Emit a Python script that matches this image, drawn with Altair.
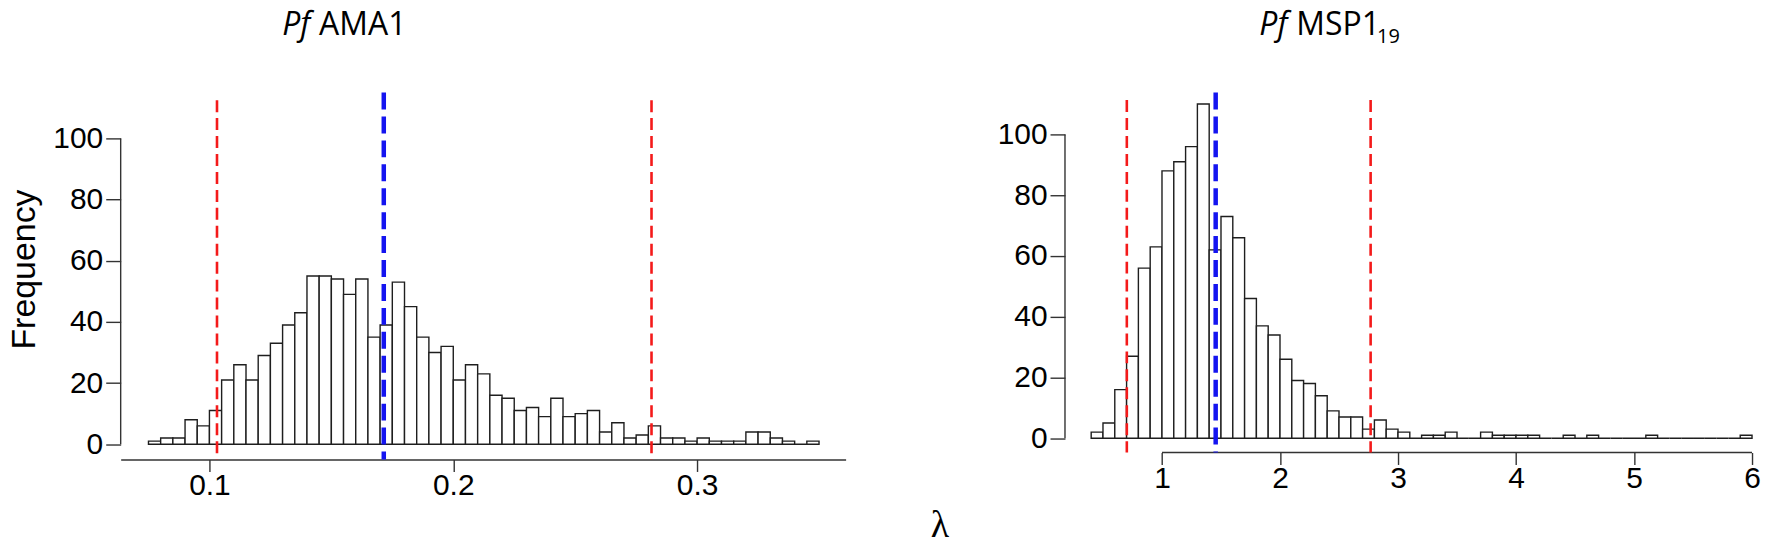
import altair as alt
import pandas as pd

# ---------------- data ----------------
ama_bin_start = [0.075, 0.080, 0.085, 0.090, 0.095, 0.100, 0.105, 0.110, 0.115, 0.120,
                 0.125, 0.130, 0.135, 0.140, 0.145, 0.150, 0.155, 0.160, 0.165, 0.170,
                 0.175, 0.180, 0.185, 0.190, 0.195, 0.200, 0.205, 0.210, 0.215, 0.220,
                 0.225, 0.230, 0.235, 0.240, 0.245, 0.250, 0.255, 0.260, 0.265, 0.270,
                 0.275, 0.280, 0.285, 0.290, 0.295, 0.300, 0.305, 0.310, 0.315, 0.320,
                 0.325, 0.330, 0.335, 0.340, 0.345]
ama_counts = [1, 2, 2, 8, 6, 11, 21, 26, 21, 29,
              33, 39, 43, 55, 55, 54, 49, 54, 35, 39,
              53, 45, 35, 30, 32, 21, 26, 23, 16, 15,
              11, 12, 9, 15, 9, 10, 11, 4, 7, 2,
              3, 6, 2, 2, 1, 2, 1, 1, 1, 4,
              4, 2, 1, 0, 1]
ama_bin_width = 0.005
ama_ci = [0.1031, 0.2813]
ama_mean = [0.1715]
ama_xticks = [0.1, 0.2, 0.3]

msp_bin_start = [0.4, 0.5, 0.6, 0.7, 0.8, 0.9, 1.0, 1.1, 1.2, 1.3,
                 1.4, 1.5, 1.6, 1.7, 1.8, 1.9, 2.0, 2.1, 2.2, 2.3,
                 2.4, 2.5, 2.6, 2.7, 2.8, 2.9, 3.0, 3.1, 3.2, 3.3,
                 3.4, 3.5, 3.6, 3.7, 3.8, 3.9, 4.0, 4.1, 4.2, 4.3,
                 4.4, 4.5, 4.6, 4.7, 4.8, 4.9, 5.0, 5.1, 5.2, 5.3,
                 5.4, 5.5, 5.6, 5.7, 5.8, 5.9]
msp_counts = [2, 5, 16, 27, 56, 63, 88, 91, 96, 110,
              62, 73, 66, 46, 37, 34, 26, 19, 18, 14,
              9, 7, 7, 3, 6, 3, 2, 0, 1, 1,
              2, 0, 0, 2, 1, 1, 1, 1, 0, 0,
              1, 0, 1, 0, 0, 0, 0, 1, 0, 0,
              0, 0, 0, 0, 0, 1]
msp_bin_width = 0.1
msp_ci = [0.702, 2.768]
msp_mean = [1.455]
msp_xticks = [1, 2, 3, 4, 5, 6]

y_ticks = [0, 20, 40, 60, 80, 100]

# ---------------- styling ----------------
FONT = "Liberation Sans"
TFONT = "Open Sans"
AX = "#333333"
BAR = "#1e1e1e"
RED = "#f41a1a"
BLUE = "#1414f0"

W1, H1 = 727, 368
W2, H2 = 689, 361
Y1_DOM = [-5, 115]
Y2_DOM = [-4.69, 113.8]
X1_DOM = [0.0636, 0.3609]
X2_DOM = [0.178, 6.0]


def hist_df(starts, counts, width):
    return pd.DataFrame({
        "start": starts,
        "end": [s + width for s in starts],
        "count": counts,
        "base": [0] * len(starts),
    })


def panel(starts, counts, width, ci, mean, xticks, xdom, ydom, w, h,
          xfmt, left_title, right_title, sub, title_pos, first):
    df = hist_df(starts, counts, width)
    xscale = alt.Scale(domain=xdom, nice=False, zero=False)
    yscale = alt.Scale(domain=ydom, nice=False, zero=False)

    if first:
        xaxis = alt.Axis(values=xticks, format=xfmt, grid=False, domain=True,
                         tickSize=12, labelPadding=-1, labelFontSize=30, labelFont=FONT,
                         labelFlush=False, labelColor="black",
                         title="λ", titleFont="Liberation Serif", titleFontSize=38,
                         titleFontWeight="normal", titleX=821, titleY=77,
                         titleAlign="center", titleBaseline="alphabetic", titleAngle=0,
                         titleColor="black")
        yaxis = alt.Axis(values=y_ticks, grid=False, domain=False, tickSize=15,
                         labelPadding=3, labelFontSize=30, labelFont=FONT,
                         labelColor="black",
                         title="Frequency", titleFont=FONT, titleFontSize=34,
                         titleFontWeight="normal", titleX=-96, titleY=177,
                         titleAlign="center", titleBaseline="middle", titleAngle=270,
                         titleColor="black")
    else:
        xaxis = alt.Axis(values=xticks, format=xfmt, grid=False, domain=False,
                         tickSize=12, labelPadding=-1, labelFontSize=30, labelFont=FONT,
                         labelFlush=False, labelColor="black", title=None)
        yaxis = alt.Axis(values=y_ticks, grid=False, domain=False, tickSize=15,
                         labelPadding=3, labelFontSize=30, labelFont=FONT,
                         labelColor="black", title=None)

    bars = alt.Chart(df).mark_rect(fill="white", stroke=BAR, strokeWidth=1.4).encode(
        x=alt.X("start:Q", scale=xscale, axis=xaxis),
        x2="end:Q",
        y=alt.Y("count:Q", scale=yscale, axis=yaxis),
        y2="base:Q",
    )

    # y axis line drawn only from 0 to 100 (R style)
    yline_df = pd.DataFrame({"lo": [y_ticks[0]], "hi": [y_ticks[-1]]})
    yline = alt.Chart(yline_df).mark_rule(color=AX, strokeWidth=1.4).encode(
        x=alt.value(0),
        y=alt.Y("lo:Q", scale=yscale, axis=yaxis),
        y2="hi:Q",
    )

    layers = [bars, yline]

    if not first:
        xline_df = pd.DataFrame({"lo": [xticks[0]], "hi": [xticks[-1]], "yb": [ydom[0]]})
        xline = alt.Chart(xline_df).mark_rule(color=AX, strokeWidth=1.4).encode(
            x=alt.X("lo:Q", scale=xscale, axis=xaxis),
            x2="hi:Q",
            y=alt.Y("yb:Q", scale=yscale, axis=yaxis),
        )
        layers.append(xline)

    ci_df = pd.DataFrame({"pos": ci, "top": [ydom[1] - 2.5] * len(ci),
                          "bot": [ydom[0]] * len(ci)})
    ci_rule = alt.Chart(ci_df).mark_rule(color=RED, strokeWidth=2.6,
                                         strokeDash=[12, 6]).encode(
        x=alt.X("pos:Q", scale=xscale, axis=xaxis),
        y=alt.Y("top:Q", scale=yscale, axis=yaxis),
        y2="bot:Q",
    )
    mean_df = pd.DataFrame({"pos": mean, "top": [ydom[1]] * len(mean),
                            "bot": [ydom[0]] * len(mean)})
    mean_rule = alt.Chart(mean_df).mark_rule(color=BLUE, strokeWidth=4.5,
                                             strokeDash=[17, 7]).encode(
        x=alt.X("pos:Q", scale=xscale, axis=xaxis),
        y=alt.Y("top:Q", scale=yscale, axis=yaxis),
        y2="bot:Q",
    )
    layers += [ci_rule, mean_rule]

    # panel title: italic species prefix + antigen name (+ subscript)
    px, mx, sx = title_pos
    t1 = alt.Chart(pd.DataFrame({"t": [left_title]})).mark_text(
        font=TFONT, fontSize=32, fontStyle="italic", align="right",
        baseline="alphabetic", color="black").encode(
        text="t:N", x=alt.value(px), y=alt.value(-58))
    t2 = alt.Chart(pd.DataFrame({"t": [right_title]})).mark_text(
        font=TFONT, fontSize=32, align="left",
        baseline="alphabetic", color="black").encode(
        text="t:N", x=alt.value(mx), y=alt.value(-58))
    layers += [t1, t2]
    if sub:
        t3 = alt.Chart(pd.DataFrame({"t": [sub]})).mark_text(
            font=TFONT, fontSize=20, align="left",
            baseline="alphabetic", color="black").encode(
            text="t:N", x=alt.value(sx), y=alt.value(-50))
        layers.append(t3)

    return alt.layer(*layers).properties(width=w, height=h)


left = panel(ama_bin_start, ama_counts, ama_bin_width, ama_ci, ama_mean, ama_xticks,
             X1_DOM, Y1_DOM, W1, H1, ".1f", "Pf", "AMA1", None, (190, 199, 0), True)
right = panel(msp_bin_start, msp_counts, msp_bin_width, msp_ci, msp_mean, msp_xticks,
              X2_DOM, Y2_DOM, W2, H2, "d", "Pf", "MSP1", "19", (223, 232, 313), False)

chart = alt.hconcat(left, right, spacing=220, bounds="flush").properties(
    padding=0
).configure_view(strokeWidth=0).configure_axis(
    tickColor=AX, tickWidth=1.4, domainColor=AX, domainWidth=1.4
)

chart.save("out.html", embed_options={"renderer": "svg", "actions": False})
